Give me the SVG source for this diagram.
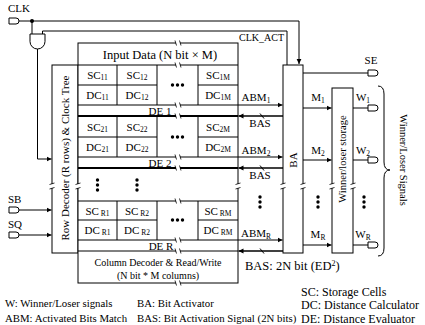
<svg xmlns="http://www.w3.org/2000/svg" width="425" height="325" viewBox="0 0 425 325">
<style>
text{font-family:"Liberation Serif","Times New Roman",serif;fill:#000}
.b{fill:#fff;stroke:#000;stroke-width:1}
.l{fill:none;stroke:#000;stroke-width:1}
.t{fill:none;stroke:#000;stroke-width:2}
.bus{fill:none;stroke:#000;stroke-width:1.5}
.a{marker-end:url(#ah)}
.c{font-size:11px;text-anchor:middle}
.m{text-anchor:middle}
.s{font-size:7.5px}
.lg{font-size:10.8px}
.lg2{font-size:12px}
</style>
<defs>
<marker id="ah" markerWidth="7" markerHeight="7" refX="5" refY="3" orient="auto" markerUnits="userSpaceOnUse"><path d="M0,0.6 L5,3 L0,5.4 Z" fill="#000"/></marker>
<path id="io" d="M0,-3 H7 A3,3 0 0 1 7,3 H0 Z" fill="#fff" stroke="#000"/>
<g id="brk"><rect x="-2" y="-1.5" width="4" height="3" fill="#fff"/><path d="M-3,-2.5 L-1.5,2.5 M1.5,-2.5 L3,2.5" fill="none" stroke="#000" stroke-width="0.8"/></g>
<g id="vd"><circle cx="0" cy="-5" r="1.7"/><circle cx="0" cy="0" r="1.7"/><circle cx="0" cy="5" r="1.7"/></g>
<g id="hd"><circle cx="-5" cy="0" r="1.7"/><circle cx="0" cy="0" r="1.7"/><circle cx="5" cy="0" r="1.7"/></g>
</defs>

<g id="clk">
<text x="8" y="12" font-size="11">CLK</text>
<use href="#io" x="9" y="21"/>
</g>
<g id="sb">
<text x="8" y="203" font-size="11">SB</text>
<use href="#io" x="9" y="210"/>
</g>
<g id="sq">
<text x="8" y="228" font-size="11">SQ</text>
<use href="#io" x="9" y="235"/>
</g>

<g id="and-gate">
<path class="b" d="M30,34 H45 V41.5 A7.5,7.5 0 0 1 30,41.5 Z"/>
</g>

<g id="row-decoder">
<rect class="b" x="52" y="65" width="26" height="188"/>
<text class="c" transform="rotate(-90 69 158)" x="69" y="158">Row Decoder (R rows) &amp; Clock Tree</text>
</g>

<g id="cell-array">
<rect class="b" x="78" y="43" width="160" height="240"/>
<text class="m" x="160" y="59" font-size="12.5">Input Data (N bit × M)</text>
<path class="l" d="M78,65 H238 M78,85 H157 M198,85 H238 M78,105 H238 M78,137 H157 M198,137 H238 M78,157 H238 M78,201 H238 M78,220 H157 M198,220 H238 M78,240 H238 M78,251 H238"/>
<path class="t" d="M78,116 H238 M78,168 H238"/>
<path class="l" d="M117,65 V105 M157,65 V105 M198,65 V105 M117,116 V157 M157,116 V157 M198,116 V157 M117,201 V240 M157,201 V240 M198,201 V240"/>
<g id="row1">
<text class="c" x="97.5" y="79">SC<tspan class="s" dy="1">11</tspan></text>
<text class="c" x="137" y="79">SC<tspan class="s" dy="1">12</tspan></text>
<text class="c" x="218" y="79">SC<tspan class="s" dy="1">1M</tspan></text>
<text class="c" x="97.5" y="99">DC<tspan class="s" dy="1">11</tspan></text>
<text class="c" x="137" y="99">DC<tspan class="s" dy="1">12</tspan></text>
<text class="c" x="218" y="99">DC<tspan class="s" dy="1">1M</tspan></text>
<use href="#hd" x="177.5" y="85"/>
<text class="c" x="160" y="114.5" font-size="12">DE 1</text>
</g>
<g id="row2">
<text class="c" x="97.5" y="131">SC<tspan class="s" dy="1">21</tspan></text>
<text class="c" x="137" y="131">SC<tspan class="s" dy="1">22</tspan></text>
<text class="c" x="218" y="131">SC<tspan class="s" dy="1">2M</tspan></text>
<text class="c" x="97.5" y="151">DC<tspan class="s" dy="1">21</tspan></text>
<text class="c" x="137" y="151">DC<tspan class="s" dy="1">22</tspan></text>
<text class="c" x="218" y="151">DC<tspan class="s" dy="1">2M</tspan></text>
<use href="#hd" x="177.5" y="137"/>
<text class="c" x="160" y="166.5" font-size="12">DE 2</text>
</g>
<use href="#vd" x="97.5" y="185"/>
<use href="#vd" x="137" y="185"/>
<g id="rowR">
<text class="c" x="97.5" y="214.5">SC<tspan class="s" dy="1"> R1</tspan></text>
<text class="c" x="137" y="214.5">SC<tspan class="s" dy="1"> R2</tspan></text>
<text class="c" x="218" y="214.5">SC<tspan class="s" dy="1"> RM</tspan></text>
<text class="c" x="97.5" y="234">DC<tspan class="s" dy="1"> R1</tspan></text>
<text class="c" x="137" y="234">DC<tspan class="s" dy="1"> R2</tspan></text>
<text class="c" x="218" y="234">DC<tspan class="s" dy="1"> RM</tspan></text>
<use href="#hd" x="177.5" y="220"/>
<text class="c" x="161" y="249.5" font-size="12">DE R</text>
</g>
</g>

<g id="column-decoder">
<text class="m" x="158" y="266" font-size="10">Column Decoder &amp; Read/Write</text>
<text class="m" x="158" y="279" font-size="10">(N bit * M columns)</text>
</g>

<g id="ba">
<rect class="b" x="283" y="65" width="20" height="188"/>
<text class="c" transform="rotate(-90 297 160)" x="297" y="160">BA</text>
</g>

<g id="wl-storage">
<rect class="b" x="332" y="88" width="21" height="165"/>
<text class="m" font-size="10.5" transform="rotate(-90 346 159)" x="346" y="159">Winner/loser storage</text>
</g>

<g id="se">
<text class="c" x="371" y="64">SE</text>
<use href="#io" x="368" y="73"/>
</g>
<g id="w-out">
<use href="#io" x="368" y="108"/>
<use href="#io" x="368" y="160"/>
<use href="#io" x="368" y="245"/>
<text class="c" x="363" y="101">W<tspan class="s" dy="2">1</tspan></text>
<text class="c" x="363" y="154">W<tspan class="s" dy="2">2</tspan></text>
<text class="c" x="363" y="238">W<tspan class="s" dy="2">R</tspan></text>
</g>

<g id="brace">
<path class="l" d="M378,86 Q384,86 384,94 L384,162 Q384,170 390,170 Q384,170 384,178 L384,248 Q384,256 378,256"/>
<text class="m" font-size="10.5" transform="rotate(90 400 160)" x="400" y="160">Winner/Loser Signals</text>
</g>

<g id="connectors">
<path class="l a" d="M19,21 H299 V64"/>
<circle cx="32" cy="21" r="2"/>
<path class="l" d="M32,21 V34"/>
<path class="l" d="M42.5,34 V31 H287 V65"/>
<path class="l a" d="M37.5,49 V159 H51.5"/>
<path class="l a" d="M19,210 H51.5"/>
<path class="l a" d="M19,235 H51.5"/>
<path class="l a" d="M238,105 H282.5"/>
<path class="l a" d="M238,157 H282.5"/>
<path class="l a" d="M238,240 H282.5"/>
<path class="bus a" d="M283,116 H238.5"/>
<path class="bus a" d="M283,168 H238.5"/>
<path class="bus a" d="M283,251 H238.5"/>
<path class="l" d="M303,73 H368"/>
<path class="l a" d="M303,108 H331.5"/>
<path class="l a" d="M303,160 H331.5"/>
<path class="l a" d="M303,245 H331.5"/>
<path class="l" d="M353,108 H368 M353,160 H368 M353,245 H368"/>
<path class="l" d="M260,113.5 L264,118.5 M260,165.5 L264,170.5 M260,248.5 L264,253.5"/>
</g>

<g id="breaks">
<use href="#brk" x="178" y="43"/>
<use href="#brk" x="178" y="65"/>
<use href="#brk" x="178" y="105"/>
<use href="#brk" x="178" y="116"/>
<use href="#brk" x="178" y="157"/>
<use href="#brk" x="178" y="168"/>
<use href="#brk" x="178" y="201"/>
<use href="#brk" x="178" y="240"/>
<use href="#brk" x="178" y="251"/>
<use href="#brk" x="178" y="283"/>
<use href="#brk" transform="translate(52 186) rotate(90)"/>
<use href="#brk" transform="translate(78 186) rotate(90)"/>
<use href="#brk" transform="translate(238 186) rotate(90)"/>
<use href="#brk" transform="translate(283 186) rotate(90)"/>
<use href="#brk" transform="translate(303 186) rotate(90)"/>
<use href="#brk" transform="translate(332 186) rotate(90)"/>
<use href="#brk" transform="translate(353 186) rotate(90)"/>
</g>

<g id="labels">
<text x="239" y="41" font-size="10">CLK_ACT</text>
<text class="c" x="256" y="101">ABM<tspan class="s" dy="2">1</tspan></text>
<text class="c" x="260" y="127">BAS</text>
<text class="c" x="256" y="154">ABM<tspan class="s" dy="2">2</tspan></text>
<text class="c" x="260" y="179">BAS</text>
<text class="c" x="256" y="237">ABM<tspan class="s" dy="2">R</tspan></text>
<use href="#vd" x="260" y="202"/>
<text class="c" x="318" y="101">M<tspan class="s" dy="2">1</tspan></text>
<text class="c" x="318" y="154">M<tspan class="s" dy="2">2</tspan></text>
<text class="c" x="318" y="238">M<tspan class="s" dy="2">R</tspan></text>
<use href="#vd" x="318" y="202"/>
<use href="#vd" x="364" y="202"/>
<text x="245" y="270" font-size="12.5">BAS: 2N bit (ED<tspan font-size="8" dy="-4">2</tspan><tspan dy="4">)</tspan></text>
</g>

<g id="legend">
<text class="lg" x="5" y="307">W: Winner/Loser signals</text>
<text class="lg" x="5" y="321.5">ABM: Activated Bits Match</text>
<text class="lg" x="137" y="307">BA: Bit Activator</text>
<text class="lg" x="137" y="321.5">BAS: Bit Activation Signal (2N bits)</text>
<text class="lg2" x="301" y="295.5">SC: Storage Cells</text>
<text class="lg2" x="301" y="309">DC: Distance Calculator</text>
<text class="lg2" x="301" y="322.5">DE: Distance Evaluator</text>
</g>
</svg>
